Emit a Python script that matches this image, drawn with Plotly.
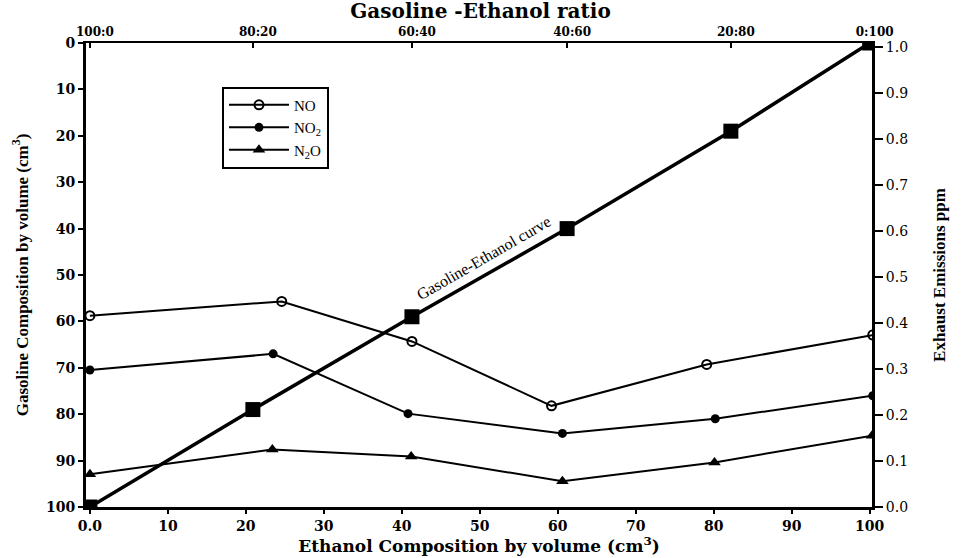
import plotly.graph_objects as go

# ---- data ----
# Gasoline-Ethanol curve (left axis, reversed)
blend_ethanol = [0.0, 20.9, 41.3, 61.2, 82.2, 100.0]
blend_gasoline = [100, 79, 59, 40, 19, 0]
ratio_labels = ["100:0", "80:20", "60:40", "40:60", "20:80", "0:100"]

# Exhaust emissions (right axis, ppm)
no_x = [0.0, 24.6, 41.3, 59.2, 79.1, 100.4]
no_y = [0.416, 0.447, 0.360, 0.220, 0.310, 0.374]
no2_x = [0.0, 23.5, 40.8, 60.6, 80.2, 100.4]
no2_y = [0.298, 0.333, 0.203, 0.160, 0.192, 0.242]
n2o_x = [0.0, 23.4, 41.2, 60.6, 80.1, 100.3]
n2o_y = [0.071, 0.125, 0.110, 0.056, 0.097, 0.155]

x_ticks = [0, 10, 20, 30, 40, 50, 60, 70, 80, 90, 100]
x_ticklabels = ["0.0", "10", "20", "30", "40", "50", "60", "70", "80", "90", "100"]
left_ticks = [0, 10, 20, 30, 40, 50, 60, 70, 80, 90, 100]
right_ticks = [0.0, 0.1, 0.2, 0.3, 0.4, 0.5, 0.6, 0.7, 0.8, 0.9, 1.0]

SERIF = "Liberation Serif"
WIDE = "DejaVu Serif"
XR = [-0.5, 100.3]

fig = go.Figure()

fig.add_trace(go.Scatter(
    x=blend_ethanol, y=blend_gasoline, xaxis="x", yaxis="y",
    mode="lines+markers", line=dict(color="black", width=3.5),
    marker=dict(symbol="square", size=15, color="black"),
    showlegend=False, hoverinfo="skip"))

fig.add_trace(go.Scatter(
    x=no_x, y=no_y, xaxis="x", yaxis="y2", name="NO",
    mode="lines+markers", line=dict(color="black", width=2),
    marker=dict(symbol="circle-open", size=9, color="black", line=dict(width=2))))
fig.add_trace(go.Scatter(
    x=no2_x, y=no2_y, xaxis="x", yaxis="y2", name="NO<sub>2</sub>",
    mode="lines+markers", line=dict(color="black", width=2),
    marker=dict(symbol="circle", size=9, color="black")))
fig.add_trace(go.Scatter(
    x=n2o_x, y=n2o_y, xaxis="x", yaxis="y2", name="N<sub>2</sub>O",
    mode="lines+markers", line=dict(color="black", width=2),
    marker=dict(symbol="triangle-up", size=11, color="black")))

# invisible trace so the top axis is drawn
fig.add_trace(go.Scatter(
    x=blend_ethanol, y=blend_gasoline, xaxis="x2", yaxis="y",
    mode="markers", marker=dict(opacity=0), showlegend=False, hoverinfo="skip"))

fig.update_layout(
    width=961, height=558,
    margin=dict(l=86, r=89, t=43, b=48),
    paper_bgcolor="white", plot_bgcolor="white",
    font=dict(family=SERIF, color="black"),
    title=dict(text="Gasoline -Ethanol ratio", x=0.5, xanchor="center",
               y=0.993, yanchor="top", yref="container",
               font=dict(family=WIDE, size=20, color="black", weight="bold")),
    xaxis=dict(range=XR, tickvals=x_ticks, ticktext=x_ticklabels,
               showgrid=False, zeroline=False, showline=True, linecolor="black",
               linewidth=3, ticks="outside", ticklen=4, tickwidth=2, tickcolor="black",
               tickfont=dict(family=WIDE, size=14, color="black", weight="bold"),
               title=dict(text="Ethanol Composition by volume (cm<sup>3</sup>)",
                          font=dict(family=WIDE, size=17, color="black", weight="bold"),
                          standoff=0)),
    xaxis2=dict(range=XR, overlaying="x", side="top", anchor="y",
                tickvals=blend_ethanol, ticktext=ratio_labels,
                showgrid=False, zeroline=False, showline=True, linecolor="black",
                linewidth=2, ticks="inside", ticklen=5, tickwidth=2, tickcolor="black",
                ticklabelshift=5,
                tickfont=dict(family=WIDE, size=12, color="black", weight="bold")),
    yaxis=dict(range=[100, 0], tickvals=left_ticks,
               showgrid=False, zeroline=False, showline=True, linecolor="black",
               linewidth=3, ticks="outside", ticklen=5, tickwidth=2, tickcolor="black",
               tickfont=dict(family=WIDE, size=14, color="black", weight="bold"),
               title=dict(text="Gasoline Composition by volume (cm<sup>3</sup>)",
                          font=dict(family=SERIF, size=17, color="black", weight="bold"),
                          standoff=14)),
    yaxis2=dict(range=[0, 1.009], overlaying="y", side="right", anchor="x",
                tickvals=right_ticks, tickformat=".1f",
                showgrid=False, zeroline=False, showline=True, linecolor="black",
                linewidth=3, ticks="outside", ticklen=8, tickwidth=2, tickcolor="black",
                tickfont=dict(family=WIDE, size=14, color="black"),
                title=dict(text="Exhaust Emissions ppm",
                           font=dict(family=SERIF, size=17, color="black", weight="bold"),
                           standoff=26)),
    legend=dict(x=0.173, y=0.906, xanchor="left", yanchor="top",
                bgcolor="white", bordercolor="black", borderwidth=2,
                itemwidth=60, tracegroupgap=0,
                font=dict(family=SERIF, size=15, color="black")),
    annotations=[dict(text="Gasoline-Ethanol curve", x=50.6, y=46.3,
                      xref="x", yref="y", showarrow=False, textangle=-30,
                      font=dict(family=SERIF, size=16, color="black"))],
)

fig.write_html("out.html", config={"displayModeBar": False},
               post_script="document.body.style.margin='0';")
